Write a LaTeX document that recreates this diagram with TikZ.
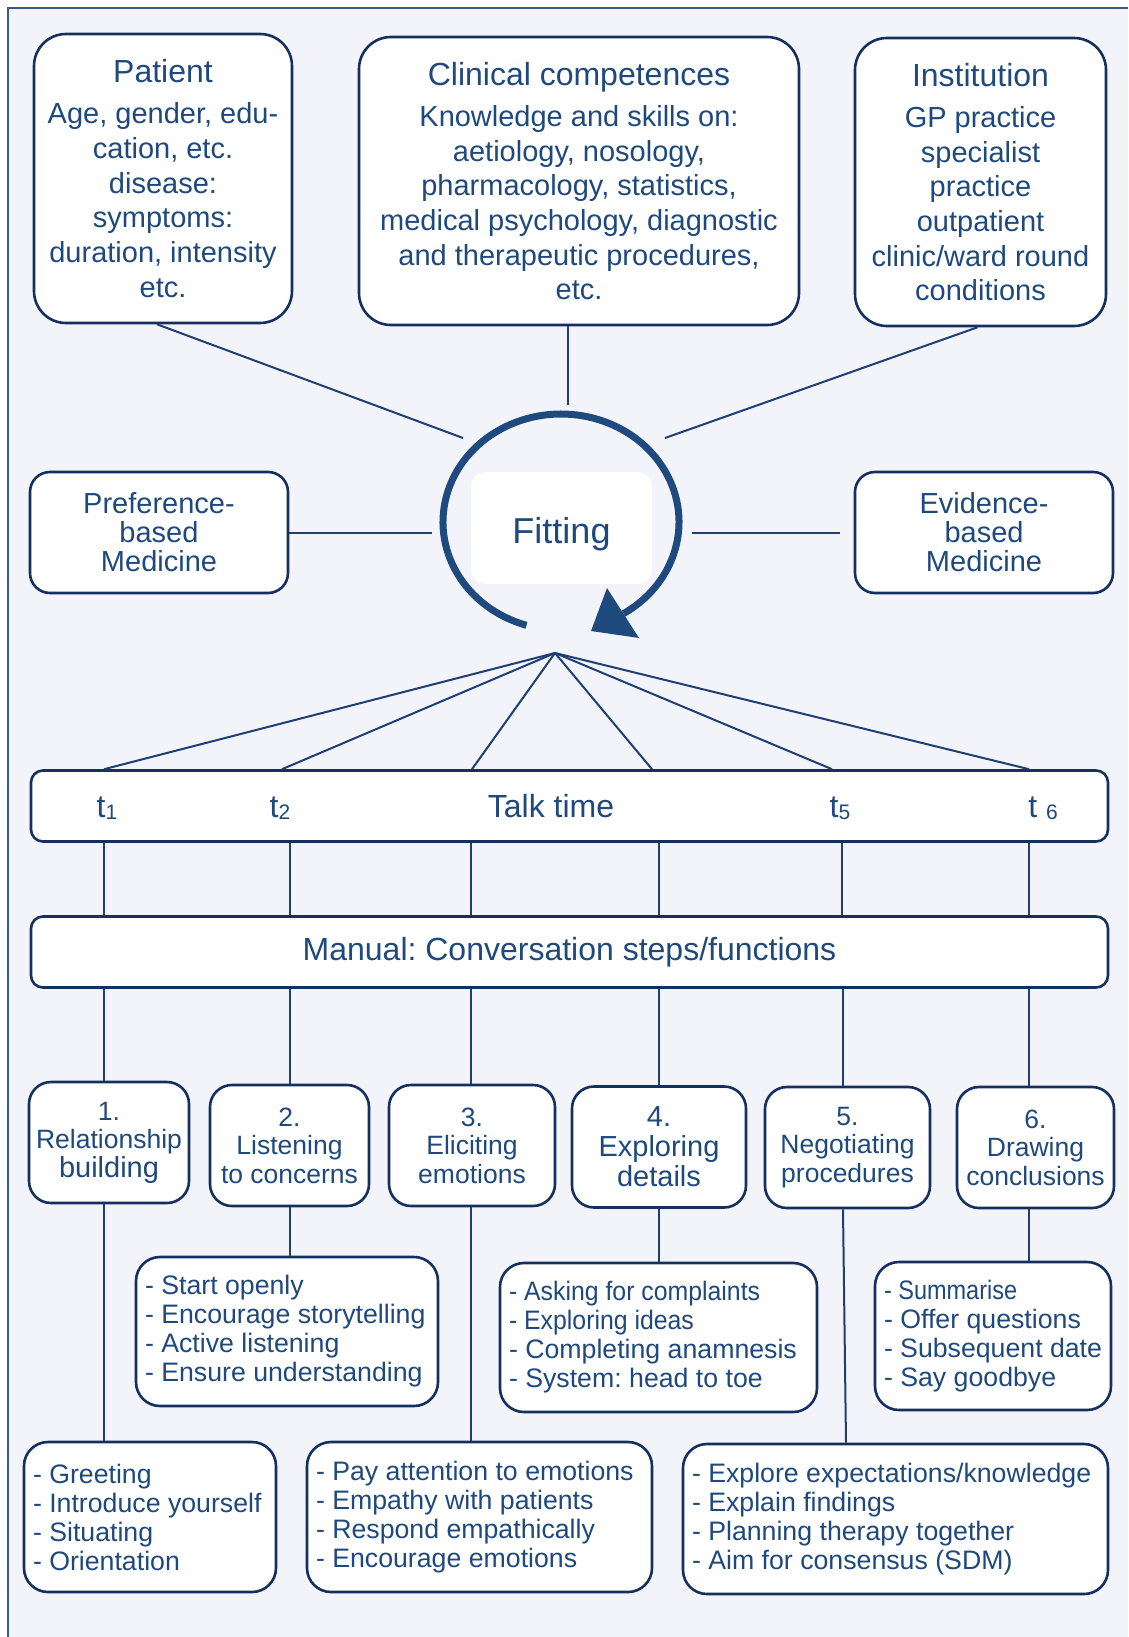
\documentclass[tikz,border=0pt]{standalone}
\usepackage{fontspec}
\setmainfont{Liberation Sans}
\newfontfamily\narrowfont[FakeStretch=0.93]{Liberation Sans}
\newfontfamily\narrowerfont[FakeStretch=0.88]{Liberation Sans}
\usetikzlibrary{positioning}
\definecolor{textBlue}{HTML}{1F497D}
\definecolor{boxLine}{HTML}{15305E}
\definecolor{linkLine}{HTML}{1F3F72}
\definecolor{loopBlue}{HTML}{1F4A7E}
\definecolor{paperTint}{HTML}{F3F4FA}
\definecolor{frameLine}{HTML}{3A5A8A}
\newcommand{\boxtitle}[1]{{\fontsize{32}{34.7}\selectfont #1}}
\newcommand{\tsub}[1]{{\fontsize{21}{21}\selectfont\raisebox{-2pt}{#1}}}

\begin{document}
\frenchspacing
\begin{tikzpicture}[
        x=1pt, y=-1pt,
        box/.style={rectangle, draw=boxLine, line width=2.6pt, fill=white, text=textBlue, align=center, inner sep=0pt},
        topbox/.style={box, rounded corners=32pt, font=\fontsize{29}{34.7}\selectfont},
        sidebox/.style={box, rounded corners=20pt, minimum width=258pt, minimum height=121pt, font=\fontsize{29}{29}\selectfont},
        fitbox/.style={rectangle, rounded corners=15pt, fill=white, text=textBlue, minimum width=181pt, minimum height=112pt, text height=30pt, text depth=0pt, font=\fontsize{36}{40}\selectfont},
        barbox/.style={box, rounded corners=12pt, minimum width=1077pt, font=\fontsize{32}{36}\selectfont},
        stepbox/.style={box, rounded corners=22pt, minimum height=121pt, font=\fontsize{26.5}{28.5}\selectfont},
        listbox/.style={box, rounded corners=24pt, align=flush left, inner xsep=9pt, minimum height=150pt, font=\fontsize{26.7}{29}\selectfont},
        tlabel/.style={text=textBlue, font=\fontsize{32}{36}\selectfont, inner sep=0pt, anchor=base},
        link/.style={draw=linkLine, line width=2pt},
        loopline/.style={draw=loopBlue, line width=7pt}
      ]
        \useasboundingbox (0,0) rectangle (1128,1637);
        \fill[paperTint] (8,8) rectangle (1128,1637);
        \draw[frameLine, line width=1.5pt] (8,1637) -- (8,8) -- (1128,8);

        % influences round the fitting
        \node[topbox, minimum width=258pt, minimum height=289pt] (pat) at (163,178.5) {\boxtitle{Patient}\\[6.5pt]Age, gender, edu-\\cation, etc.\\disease:\\symptoms:\\duration, intensity\\etc.};
        \node[topbox, minimum width=440pt, minimum height=288pt] (clin) at (579,181) {\boxtitle{Clinical competences}\\[6.5pt]Knowledge and skills on:\\aetiology, nosology,\\pharmacology, statistics,\\medical psychology, diagnostic\\and therapeutic procedures,\\etc.};
        \node[topbox, minimum width=251pt, minimum height=288pt] (inst) at (980.5,182) {\boxtitle{Institution}\\[6.5pt]GP practice\\specialist\\practice\\outpatient\\clinic/ward round\\conditions};
        \node[sidebox] (pref) at (159,532.5) {Preference-\\based\\Medicine};
        \node[sidebox] (evid) at (984,532.5) {Evidence-\\based\\Medicine};

        % fitting loop
        \node[fitbox] (fit) at (561.5,528) {Fitting};
        \draw[loopline] (526.5,625.3) arc[start angle=107, end angle=418, x radius=118, y radius=108];
        \fill[loopBlue] (607,588) -- (591,631) -- (639,638) -- cycle;
        \coordinate (loopNW) at (463,438);
        \coordinate (loopN) at (568,405);
        \coordinate (loopNE) at (665,438);
        \coordinate (loopW) at (432,532.5);
        \coordinate (loopE) at (692,532.5);
        \coordinate (fan) at (555,653);
        \draw[link] ([xshift=-6pt]pat.south) -- (loopNW);
        \draw[link] ([xshift=-11pt]clin.south) -- (loopN);
        \draw[link] ([xshift=-3pt]inst.south) -- (loopNE);
        \draw[link] (pref.east) -- (loopW);
        \draw[link] (loopE) -- ([xshift=-14pt]evid.west);

        % talk time and manual
        \node[barbox, minimum height=71pt] (talk) at (569.5,806) {};
        \node[tlabel] (t1) at (107,817) {t\tsub{1}};
        \node[tlabel] (t2) at (280,817) {t\tsub{2}};
        \node[tlabel] (ttime) at (551,817) {Talk time};
        \node[tlabel] (t5) at (840,817) {t\tsub{5}};
        \node[tlabel] (t6) at (1043,817) {t \tsub{6}};
        \node[barbox, minimum height=71pt] (manual) at (569.5,952) {Manual: Conversation steps/functions};
        \draw[link] (fan) -- (talk.north -| 104,0);
        \draw[link] (fan) -- (talk.north -| 282,0);
        \draw[link] (fan) -- (talk.north -| 472,0);
        \draw[link] (fan) -- (talk.north -| 652,0);
        \draw[link] (fan) -- (talk.north -| 832,0);
        \draw[link] (fan) -- (talk.north -| 1029,0);
        \draw[link] (talk.south -| 104,0) -- (manual.north -| 104,0);
        \draw[link] (talk.south -| 290,0) -- (manual.north -| 290,0);
        \draw[link] (talk.south -| 471,0) -- (manual.north -| 471,0);
        \draw[link] (talk.south -| 659,0) -- (manual.north -| 659,0);
        \draw[link] (talk.south -| 842,0) -- (manual.north -| 842,0);
        \draw[link] (talk.south -| 1029,0) -- (manual.north -| 1029,0);

        % conversation steps
        \node[stepbox, minimum width=160pt] (s1) at (109,1142.5) {1.\\Relationship\\{\fontsize{29}{28.5}\selectfont building}};
        \node[stepbox, minimum width=159pt] (s2) at (289.5,1145.5) {2.\\Listening\\to concerns};
        \node[stepbox, minimum width=166pt] (s3) at (472,1145.5) {3.\\Eliciting\\emotions};
        \node[stepbox, minimum width=174pt, font=\fontsize{29}{30}\selectfont] (s4) at (659,1147) {4.\\Exploring\\details};
        \node[stepbox, minimum width=165pt] (s5) at (847.5,1147.5) {5.\\Negotiating\\procedures};
        \node[stepbox, minimum width=157pt] (s6) at (1035.5,1147.5) {6.\\Drawing\\conclusions};
        \draw[link] (manual.south -| 104,0) -- (s1.north -| 104,0);
        \draw[link] (manual.south -| 290,0) -- (s2.north -| 290,0);
        \draw[link] (manual.south -| 471,0) -- (s3.north -| 471,0);
        \draw[link] (manual.south -| 659,0) -- (s4.north -| 659,0);
        \draw[link] (manual.south -| 843,0) -- (s5.north -| 843,0);
        \draw[link] (manual.south -| 1029,0) -- (s6.north -| 1029,0);

        % step contents
        \node[listbox, text width=234pt] (d1) at (150,1517) {- Greeting\\- Introduce yourself\\- Situating\\- Orientation};
        \node[listbox, text width=284pt, minimum height=149pt] (d2) at (287,1331.5) {- Start openly\\-~Encourage~storytelling\\- Active listening\\- Ensure understanding};
        \node[listbox, text width=327pt] (d3) at (479.5,1517) {- Pay attention to emotions\\- Empathy with patients\\- Respond empathically\\- Encourage emotions};
        \node[listbox, text width=299pt, minimum height=149pt] (d4) at (658.5,1337.5) {{\narrowfont - Asking for complaints}\\{\narrowfont - Exploring ideas}\\- Completing anamnesis\\- System: head to toe};
        \node[listbox, text width=407pt] (d5) at (895.5,1519) {- Explore expectations/knowledge\\- Explain findings\\- Planning therapy together\\- Aim for consensus (SDM)};
        \node[listbox, text width=218pt, minimum height=148pt] (d6) at (993,1336) {{\narrowerfont - Summarise}\\- Offer questions\\-~Subsequent~date\\- Say goodbye};
        \draw[link] (s1.south -| 104,0) -- (d1.north -| 104,0);
        \draw[link] (s2.south -| 290,0) -- (d2.north -| 290,0);
        \draw[link] (s3.south -| 471,0) -- (d3.north -| 471,0);
        \draw[link] (s4.south -| 659,0) -- (d4.north -| 659,0);
        \draw[link] (s5.south -| 843,0) -- (d5.north -| 846,0);
        \draw[link] (s6.south -| 1029,0) -- (d6.north -| 1029,0);
      \end{tikzpicture}
\end{document}
